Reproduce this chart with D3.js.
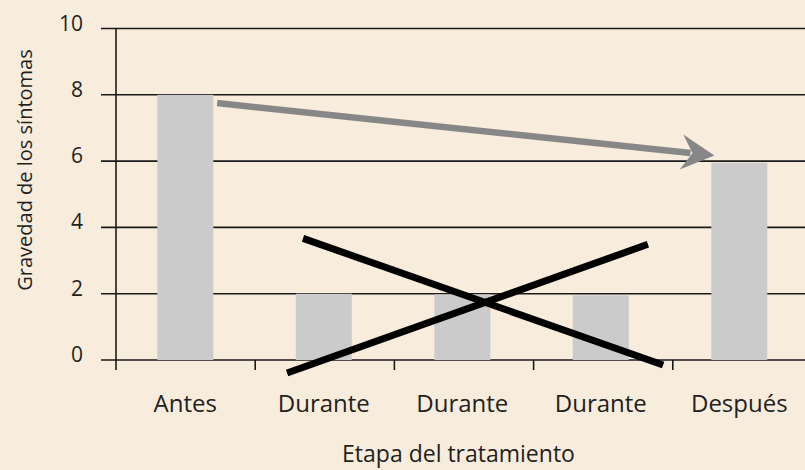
<!doctype html>
<html lang="es">
<head>
  <meta charset="utf-8">
  <title>Gravedad de los síntomas</title>
  <script src="https://d3js.org/d3.v7.min.js"></script>
  <style>
    body { margin: 0; background: #f8ecdd; }
    svg { display: block; }
    text { font-family: "Open Sans", sans-serif; fill: #231f20; }
  </style>
</head>
<body>
<div id="chart"></div>
<script>
  // data
  var stages = ["Antes", "Durante", "Durante", "Durante", "Después"];
  var severity = [8, 2, 1.98, 1.95, 5.95];
  var yTicks = [0, 2, 4, 6, 8, 10];

  // annotations, in (stage index, severity) units
  var trendArrow = { from: [0.23, 7.75], to: [3.82, 6.17] };
  var crossLines = [
    { from: [0.85, 3.67], to: [3.45, -0.15] },
    { from: [0.735, -0.39], to: [3.34, 3.49] }
  ];

  var width = 805,
      height = 470;

  var svg = d3.select("#chart")
    .append("svg")
    .attr("width", width)
    .attr("height", height);

  svg.append("rect")
    .attr("width", width)
    .attr("height", height)
    .attr("fill", "#f8ecdd");

  var x = d3.scaleBand()
    .domain(d3.range(stages.length))
    .range([116, 116 + 139.2 * stages.length]);

  // continuous position along the categories (index 0 = centre of first bar)
  var xIdx = d3.scaleLinear()
    .domain([0, 4])
    .range([185.3, 739.3]);

  var y = d3.scaleLinear()
    .domain([0, 10])
    .range([360, 28.5]);

  var barW = 56;

  // gridlines (behind bars)
  svg.append("g")
    .selectAll("line")
    .data(yTicks)
    .enter().append("line")
    .attr("x1", 101)
    .attr("x2", width)
    .attr("y1", function(d) { return y(d); })
    .attr("y2", function(d) { return y(d); })
    .attr("stroke", "#1a1a1a")
    .attr("stroke-width", 1.6);

  // y tick labels
  svg.append("g")
    .selectAll("text")
    .data(yTicks)
    .enter().append("text")
    .attr("x", 83)
    .attr("y", function(d) { return y(d) + 2; })
    .attr("text-anchor", "end")
    .style("font-size", "21px")
    .text(function(d) { return d; });

  // bars
  svg.append("g")
    .selectAll("rect")
    .data(severity)
    .enter().append("rect")
    .attr("x", function(d, i) { return xIdx(i) - barW / 2; })
    .attr("y", function(d) { return y(d); })
    .attr("width", barW)
    .attr("height", function(d) { return y(0) - y(d); })
    .attr("fill", "#cbcbcb");

  // y axis line
  svg.append("line")
    .attr("x1", x(0)).attr("x2", x(0))
    .attr("y1", y(10)).attr("y2", y(0) + 10)
    .attr("stroke", "#1a1a1a")
    .attr("stroke-width", 1.6);

  // x ticks
  svg.append("g")
    .selectAll("line")
    .data(d3.range(1, stages.length))
    .enter().append("line")
    .attr("x1", function(d) { return x(d); })
    .attr("x2", function(d) { return x(d); })
    .attr("y1", y(0))
    .attr("y2", y(0) + 10)
    .attr("stroke", "#1a1a1a")
    .attr("stroke-width", 1.6);

  // x labels
  svg.append("g")
    .selectAll("text")
    .data(stages)
    .enter().append("text")
    .attr("x", function(d, i) { return xIdx(i); })
    .attr("y", 412)
    .attr("text-anchor", "middle")
    .style("font-size", "24px")
    .text(function(d) { return d; });

  // axis titles
  svg.append("text")
    .attr("x", 458.5)
    .attr("y", 462)
    .attr("text-anchor", "middle")
    .style("font-size", "23px")
    .text("Etapa del tratamiento");

  svg.append("text")
    .attr("transform", "translate(32,170) rotate(-90)")
    .attr("text-anchor", "middle")
    .style("font-size", "20px")
    .text("Gravedad de los síntomas");

  // grey arrow
  var ax1 = xIdx(trendArrow.from[0]), ay1 = y(trendArrow.from[1]),
      ax2 = xIdx(trendArrow.to[0]), ay2 = y(trendArrow.to[1]);
  var len = Math.hypot(ax2 - ax1, ay2 - ay1),
      ux = (ax2 - ax1) / len, uy = (ay2 - ay1) / len,
      px = -uy, py = ux;
  var headL = 33, headW = 17.5, notch = 22;

  svg.append("line")
    .attr("x1", ax1).attr("y1", ay1)
    .attr("x2", ax2 - ux * (notch + 2)).attr("y2", ay2 - uy * (notch + 2))
    .attr("stroke", "#878787")
    .attr("stroke-width", 6.5);

  var head = [
    [ax2, ay2],
    [ax2 - ux * headL + px * headW, ay2 - uy * headL + py * headW],
    [ax2 - ux * notch, ay2 - uy * notch],
    [ax2 - ux * headL - px * headW, ay2 - uy * headL - py * headW]
  ];
  svg.append("path")
    .attr("d", d3.line()(head) + "Z")
    .attr("fill", "#878787");

  // black cross
  svg.append("g")
    .selectAll("line")
    .data(crossLines)
    .enter().append("line")
    .attr("x1", function(d) { return xIdx(d.from[0]); })
    .attr("y1", function(d) { return y(d.from[1]); })
    .attr("x2", function(d) { return xIdx(d.to[0]); })
    .attr("y2", function(d) { return y(d.to[1]); })
    .attr("stroke", "#000")
    .attr("stroke-width", 7);
</script>
</body>
</html>
